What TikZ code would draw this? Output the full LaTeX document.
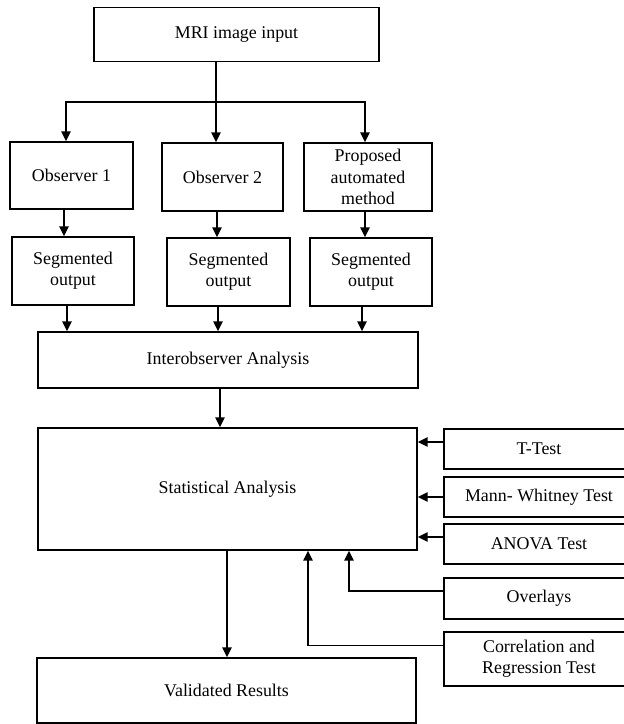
\documentclass[tikz,border=0pt]{standalone}
\usepackage{fontspec}
\setmainfont{Liberation Serif}
\usetikzlibrary{arrows.meta}

\tikzset{
    box/.style={draw, line width=1.4pt, rectangle, inner sep=0pt, align=center,
        font=\fontsize{17.9}{21.3}\selectfont},
    arr/.style={line width=1.5pt, -{Triangle[length=10pt,width=9.5pt]}}
}

\begin{document}
\begin{tikzpicture}[x=1pt, y=-1pt]

    \useasboundingbox (0,0) rectangle (624,724);

    % input and observers
    \node[box, line width=1.1pt, minimum width=285pt, minimum height=54pt] (mri) at (236.5,34.5) {MRI image input};
    \node[box, minimum width=123pt, minimum height=67pt] (obs1) at (71.5,175.5) {Observer 1};
    \node[box, minimum width=121pt, minimum height=68pt] (obs2) at (222.5,177) {Observer 2};
    \node[box, minimum width=128pt, minimum height=68pt] (prop) at (368,177) {Proposed\\automated\\method};

    % segmentations
    \node[box, minimum width=122pt, minimum height=68pt] (seg1) at (73,271) {Segmented\\output};
    \node[box, minimum width=123pt, minimum height=68pt] (seg2) at (228.5,272) {Segmented\\output};
    \node[box, minimum width=122pt, minimum height=68pt] (seg3) at (371,272) {Segmented\\output};

    % analysis
    \node[box, minimum width=380pt, minimum height=56pt] (inter) at (228,360) {Interobserver Analysis};
    \node[box, minimum width=379pt, minimum height=122pt] (stat) at (227.5,489) {Statistical Analysis};
    \node[box, minimum width=379pt, minimum height=65pt] (valid) at (226.5,690.5) {Validated Results};

    % tests
    \node[box, minimum width=190pt, minimum height=40pt] (ttest) at (539,449) {T-Test};
    \node[box, minimum width=190pt, minimum height=40pt] (mann) at (539,497) {Mann- Whitney Test};
    \node[box, minimum width=190pt, minimum height=40pt] (anova) at (539,544) {ANOVA Test};
    \node[box, minimum width=190pt, minimum height=41pt] (ovl) at (539,598.5) {Overlays};
    \node[box, minimum width=190pt, minimum height=54pt] (corr) at (539,659) {Correlation and\\Regression Test};

    \coordinate (split) at (216,102);

    \draw[arr] (mri.south -| split) -- (obs2.north -| split); % mri -> obs2
    \draw[arr] (split) -| ([xshift=-5.5pt]obs1.north); % -> obs1
    \draw[arr] (split) -| ([xshift=-3pt]prop.north); % -> proposed

    \draw[arr] ([xshift=-7.5pt]obs1.south) -- ([xshift=-7.5pt]obs1.south |- seg1.north);
    \draw[arr] ([xshift=-5.5pt]obs2.south) -- ([xshift=-5.5pt]obs2.south |- seg2.north);
    \draw[arr] ([xshift=-3pt]prop.south) -- ([xshift=-3pt]prop.south |- seg3.north);

    \draw[arr] ([xshift=-6pt]seg1.south) -- ([xshift=-6pt]seg1.south |- inter.north);
    \draw[arr] ([xshift=-10.5pt]seg2.south) -- ([xshift=-10.5pt]seg2.south |- inter.north);
    \draw[arr] ([xshift=-9pt]seg3.south) -- ([xshift=-9pt]seg3.south |- inter.north);

    \draw[arr] ([xshift=-8pt]inter.south) -- ([xshift=-8pt]inter.south |- stat.north);
    \draw[arr] ([xshift=-0.5pt]stat.south) -- ([xshift=-0.5pt]stat.south |- valid.north);

    \draw[arr] ([yshift=7pt]ttest.west) -- ([yshift=7pt]ttest.west -| stat.east);
    \draw[arr] (mann.west) -- (mann.west -| stat.east);
    \draw[arr] ([yshift=7pt]anova.west) -- ([yshift=7pt]anova.west -| stat.east);
    \draw[arr] ([yshift=7.5pt]ovl.west) -| ([xshift=121.5pt]stat.south); % overlays
    \draw[arr] ([yshift=13.5pt]corr.west) -| ([xshift=80.5pt]stat.south); % correlation

\end{tikzpicture}
\end{document}
